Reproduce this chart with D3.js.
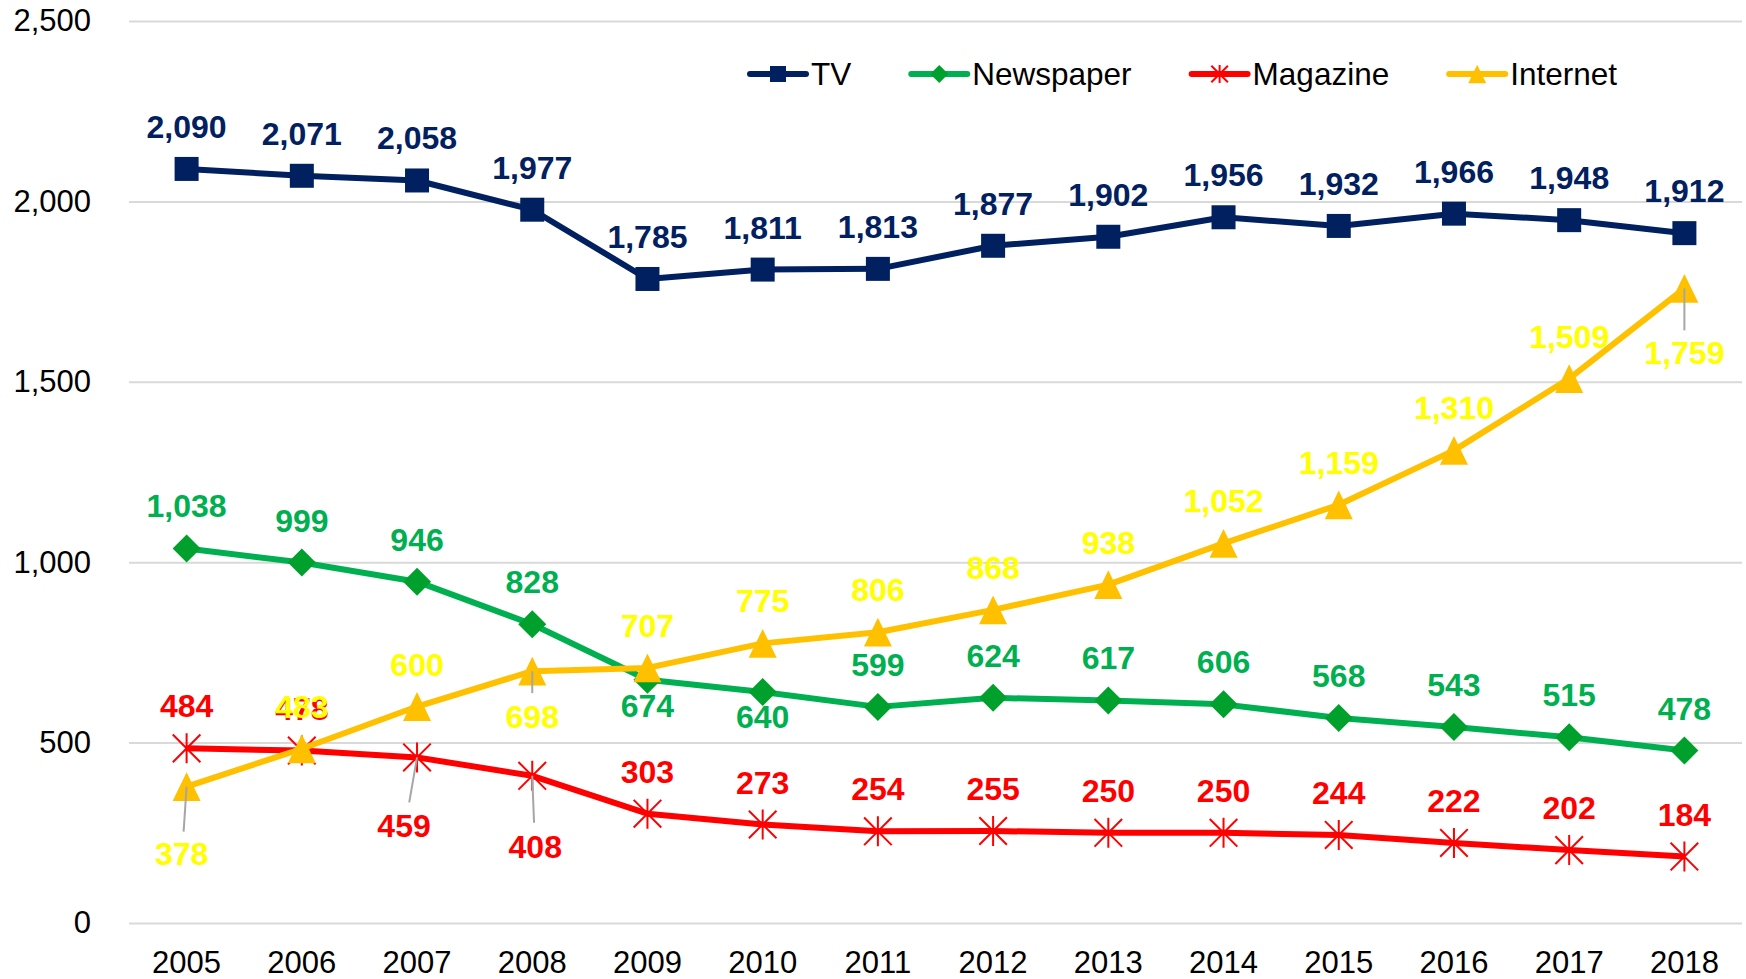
<!DOCTYPE html>
<html>
<head>
<meta charset="utf-8">
<script src="https://cdn.jsdelivr.net/npm/d3@7/dist/d3.min.js"></script>
<style>
  body { margin: 0; background: #fff; }
  text { font-family: Arial, "Liberation Sans", sans-serif; }
</style>
</head>
<body>
<svg id="chart"></svg>
<script>
const years = [2005, 2006, 2007, 2008, 2009, 2010, 2011, 2012, 2013, 2014, 2015, 2016, 2017, 2018];
const tv = [2090, 2071, 2058, 1977, 1785, 1811, 1813, 1877, 1902, 1956, 1932, 1966, 1948, 1912];
const newspaper = [1038, 999, 946, 828, 674, 640, 599, 624, 617, 606, 568, 543, 515, 478];
const magazine = [484, 478, 459, 408, 303, 273, 254, 255, 250, 250, 244, 222, 202, 184];
const internet = [378, 483, 600, 698, 707, 775, 806, 868, 938, 1052, 1159, 1310, 1509, 1759];
const yTicks = [0, 500, 1000, 1500, 2000, 2500];

const width = 1746, height = 979;
const plotLeft = 129, plotRight = 1742, plotTop = 21, plotBottom = 923;

const svg = d3.select('#chart').attr('width', width).attr('height', height);

const x = d3.scaleBand().domain(years).range([plotLeft, plotRight]);
const cx = d => x(d) + x.bandwidth() / 2;
const y = d3.scaleLinear().domain([0, 2500]).range([plotBottom, plotTop]);

// grid + y axis
svg.append('g')
    .attr('transform', 'translate(' + plotLeft + ',0)')
    .call(d3.axisLeft(y).tickValues(yTicks).tickSize(-(plotRight - plotLeft)).tickPadding(38).tickFormat(d3.format(',')))
    .call(g => g.select('.domain').remove())
    .call(g => g.selectAll('.tick line').attr('stroke', '#d9d9d9').attr('stroke-width', 2))
    .call(g => g.selectAll('.tick text').attr('fill', '#000').style('font-size', '31px')
        .style('font-family', 'Arial, "Liberation Sans", sans-serif'));

// x axis
svg.append('g')
    .attr('transform', 'translate(0,' + plotBottom + ')')
    .call(d3.axisBottom(x).tickSize(0).tickPadding(28))
    .call(g => g.select('.domain').remove())
    .call(g => g.selectAll('.tick text').attr('fill', '#000').style('font-size', '31px')
        .style('font-family', 'Arial, "Liberation Sans", sans-serif'));

// marker drawers
function square(g, s, color) {
    g.append('rect').attr('x', -s / 2).attr('y', -s / 2).attr('width', s).attr('height', s).attr('fill', color);
}
function diamond(g, s, color) {
    g.append('path').attr('d', 'M0,' + (-s / 2) + 'L' + (s / 2) + ',0L0,' + (s / 2) + 'L' + (-s / 2) + ',0Z').attr('fill', color);
}
function star(g, s, color) {
    const h = s / 2, d = h * 0.92;
    g.append('path')
        .attr('d', 'M' + -d + ',' + -d + 'L' + d + ',' + d + 'M' + d + ',' + -d + 'L' + -d + ',' + d + 'M0,' + -h + 'L0,' + h)
        .attr('stroke', color).attr('stroke-width', 2).attr('fill', 'none');
}
function triangle(g, s, color) {
    const w = s, h = s * 1.03;
    g.append('path').attr('d', 'M0,' + (-h / 2) + 'L' + (w / 2) + ',' + (h / 2) + 'L' + (-w / 2) + ',' + (h / 2) + 'Z').attr('fill', color);
}

const series = [
    { name: 'TV', values: tv, line: '#002060', label: '#002060', marker: square, size: 24, legendSize: 16 },
    { name: 'Newspaper', values: newspaper, line: '#00b050', label: '#00b050', markerColor: '#00a02c', marker: diamond, size: 28, legendSize: 18 },
    { name: 'Magazine', values: magazine, line: '#ff0000', label: '#ff0000', marker: star, size: 30, legendSize: 18 },
    { name: 'Internet', values: internet, line: '#ffc000', label: '#ffff00', marker: triangle, size: 28, legendSize: 18 }
];

// label placement: default above; overrides below (dx, dy of baseline, leader end)
const labelBelow = {
    Newspaper: { 4: { dx: 0, dy: 37 }, 5: { dx: 0, dy: 36 } },
    Magazine: { 2: { dx: -13, dy: 80, lead: 45 }, 3: { dx: 3, dy: 82, lead: 47 } },
    Internet: { 0: { dx: -5, dy: 78, lead: 45 }, 3: { dx: 0, dy: 57, lead: 22 }, 13: { dx: 0, dy: 76, lead: 42 } }
};

const line = d3.line().x((d, i) => cx(years[i])).y(d => y(d));

series.forEach(s => {
    svg.append('path')
        .datum(s.values)
        .attr('d', line)
        .attr('fill', 'none')
        .attr('stroke', s.line)
        .attr('stroke-width', 6)
        .attr('stroke-linejoin', 'round');

    svg.append('g').selectAll('g')
        .data(s.values)
        .join('g')
        .attr('transform', (d, i) => 'translate(' + cx(years[i]) + ',' + y(d) + ')')
        .each(function () { s.marker(d3.select(this), s.size, s.markerColor || s.line); });
});

// leader lines + data labels
series.forEach(s => {
    const over = labelBelow[s.name] || {};
    s.values.forEach((v, i) => {
        const px = cx(years[i]), py = y(v);
        const o = over[i];
        if (o && o.lead) {
            svg.append('line')
                .attr('x1', px).attr('y1', py)
                .attr('x2', px + o.dx * 0.6).attr('y2', py + o.lead)
                .attr('stroke', '#a6a6a6').attr('stroke-width', 2);
        }
        svg.append('text')
            .attr('x', px + (o ? o.dx : 0))
            .attr('y', py + (o ? o.dy : -31))
            .attr('text-anchor', 'middle')
            .attr('fill', s.label)
            .style('font-size', '32px')
            .style('font-weight', 'bold')
            .text(d3.format(',')(v));
    });
});

// legend
let lx = 750;
const ly = 74;
series.forEach(s => {
    const g = svg.append('g').attr('transform', 'translate(' + lx + ',' + ly + ')');
    g.append('line').attr('x1', 0).attr('x2', 56).attr('y1', 0).attr('y2', 0)
        .attr('stroke', s.line).attr('stroke-width', 6).attr('stroke-linecap', 'round');
    const m = g.append('g').attr('transform', 'translate(28,0)');
    s.marker(m, s.legendSize, s.markerColor || s.line);
    const t = g.append('text').attr('x', 61).attr('y', 0).attr('dy', '0.35em')
        .attr('fill', '#000').style('font-size', '31.5px').text(s.name);
    lx += 61 + t.node().getComputedTextLength() + 60;
});
</script>
</body>
</html>
